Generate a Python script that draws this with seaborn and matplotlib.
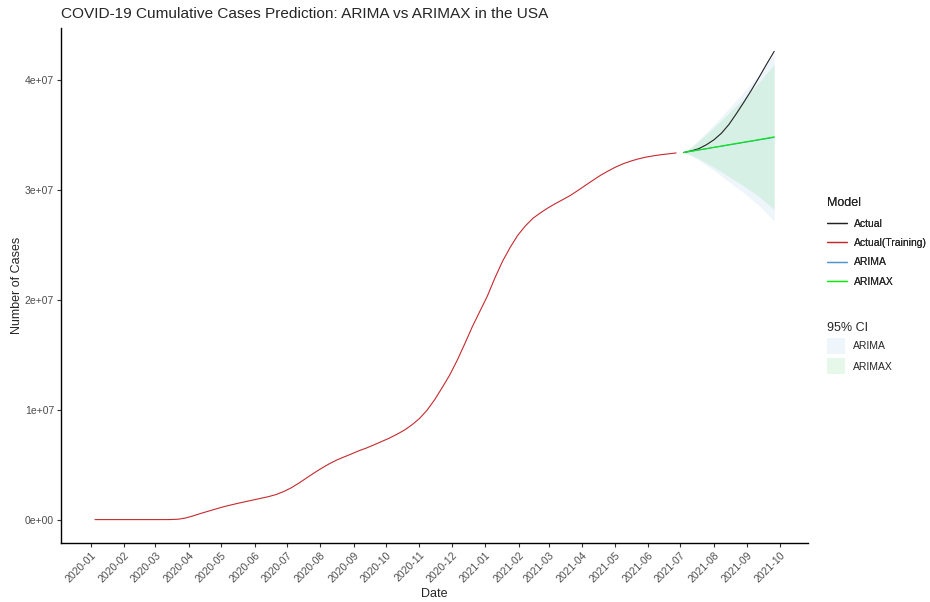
import pandas as pd
import numpy as np
import matplotlib
matplotlib.use('Agg')
import matplotlib.pyplot as plt
import matplotlib.dates as mdates
from matplotlib.lines import Line2D
from matplotlib.patches import Patch
from matplotlib.ticker import FuncFormatter
import seaborn as sns

sns.set_style('ticks')
plt.rcParams['font.family'] = ['Liberation Sans', 'DejaVu Sans']

# weekly cumulative cases (millions), training period
train_dates = pd.date_range('2020-01-05', '2021-06-27', freq='7D')
train_cases = [0, 0, 0, 0.00001, 0.00001, 0.00001, 0.00002, 0.00002, 0.0001, 0.0005,
               0.0035, 0.033, 0.142, 0.337, 0.557, 0.760, 0.965, 1.16, 1.33, 1.49,
               1.64, 1.79, 1.94, 2.09, 2.28, 2.55, 2.89, 3.31, 3.77, 4.23,
               4.66, 5.06, 5.41, 5.70, 5.98, 6.27, 6.52, 6.81, 7.11, 7.41,
               7.76, 8.14, 8.62, 9.20, 9.95, 10.90, 12.00, 13.15, 14.50, 16.00,
               17.55, 18.95, 20.35, 22.00, 23.50, 24.75, 25.85, 26.70, 27.40, 27.90,
               28.35, 28.75, 29.12, 29.50, 29.95, 30.42, 30.88, 31.33, 31.72, 32.08,
               32.38, 32.62, 32.82, 32.98, 33.10, 33.20, 33.28, 33.36]

# test period
test_dates = pd.date_range('2021-07-04', '2021-09-26', freq='7D')
test_cases = [33.40, 33.55, 33.75, 34.10, 34.55, 35.15, 35.95, 36.95, 38.00,
              39.10, 40.25, 41.45, 42.60]

arima_fc = [33.40, 33.51, 33.63, 33.74, 33.86, 33.97, 34.09, 34.20, 34.32,
            34.43, 34.55, 34.66, 34.78]
arima_lo = [33.40, 33.11, 32.71, 32.24, 31.79, 31.27, 30.76, 30.23, 29.72,
            29.14, 28.57, 27.87, 27.18]
arima_hi = [33.40, 33.91, 34.55, 35.24, 35.93, 36.67, 37.42, 38.17, 38.92,
            39.72, 40.53, 41.45, 42.38]

arimax_fc = [33.40, 33.52, 33.64, 33.75, 33.87, 33.99, 34.11, 34.23, 34.35,
             34.46, 34.58, 34.70, 34.82]
arimax_lo = [33.40, 33.17, 32.84, 32.45, 32.07, 31.64, 31.21, 30.78, 30.35,
             29.86, 29.38, 28.80, 28.22]
arimax_hi = [33.40, 33.87, 34.44, 35.05, 35.67, 36.34, 37.01, 37.68, 38.35,
             39.06, 39.78, 40.60, 41.42]

models = ['Actual', 'Actual(Training)', 'ARIMA', 'ARIMAX']
colors = {'Actual': '#222222', 'Actual(Training)': '#C62A2F',
          'ARIMA': '#4F94CD', 'ARIMAX': '#00F000'}
ci_colors = {'ARIMA': '#AACDEB', 'ARIMAX': '#7DDC96'}

M = 1e6
df = pd.concat([
    pd.DataFrame({'Date': train_dates, 'Cases': np.array(train_cases) * M, 'Model': 'Actual(Training)'}),
    pd.DataFrame({'Date': test_dates, 'Cases': np.array(test_cases) * M, 'Model': 'Actual'}),
    pd.DataFrame({'Date': test_dates, 'Cases': np.array(arima_fc) * M, 'Model': 'ARIMA'}),
    pd.DataFrame({'Date': test_dates, 'Cases': np.array(arimax_fc) * M, 'Model': 'ARIMAX'}),
])

fig = plt.figure(figsize=(9.3, 6.02), dpi=100)
ax = fig.add_axes([0.0656, 0.098, 0.8034, 0.8555])

ax.fill_between(test_dates, np.array(arima_lo) * M, np.array(arima_hi) * M,
                color=ci_colors['ARIMA'], alpha=0.2, lw=0)
ax.fill_between(test_dates, np.array(arimax_lo) * M, np.array(arimax_hi) * M,
                color=ci_colors['ARIMAX'], alpha=0.2, lw=0)

sns.lineplot(data=df, x='Date', y='Cases', hue='Model', hue_order=models,
             palette=colors, lw=0.8, ax=ax, legend=False)

# limits like ggplot (5% expansion)
x0, x1 = train_dates[0], test_dates[-1]
pad = (x1 - x0) * 0.05
ax.set_xlim(x0 - pad, x1 + pad)
ymax = max(max(test_cases), max(arima_hi)) * M
ax.set_ylim(-0.05 * ymax, ymax * 1.05)

ax.xaxis.set_major_locator(mdates.MonthLocator())
ax.xaxis.set_major_formatter(mdates.DateFormatter('%Y-%m'))
ax.set_yticks([0, 1e7, 2e7, 3e7, 4e7])
ax.yaxis.set_major_formatter(FuncFormatter(lambda v, p: f'{v:.0e}'))
plt.setp(ax.get_xticklabels(), rotation=45, ha='right', rotation_mode='anchor')
ax.tick_params(axis='both', labelsize=7.5, labelcolor='#4D4D4D', color='#333333',
               length=3, width=0.8, pad=2)

sns.despine(ax=ax)
for s in ['left', 'bottom']:
    ax.spines[s].set_color('black')
    ax.spines[s].set_linewidth(1.0)

ax.set_xlabel('Date', fontsize=9, labelpad=3)
ax.set_ylabel('Number of Cases', fontsize=9, labelpad=1)
ax.set_title('COVID-19 Cumulative Cases Prediction: ARIMA vs ARIMAX in the USA',
             fontsize=11.1, loc='left', pad=7)

line_handles = [Line2D([0], [0], color=colors[m], lw=0.9) for m in models]
leg1 = fig.legend(line_handles, models, title='Model', loc='upper left',
                  bbox_to_anchor=(0.879, 0.688), frameon=False, fontsize=7.5,
                  title_fontsize=9, handlelength=1.9, labelspacing=0.9,
                  handletextpad=0.75, alignment='left')
fig.add_artist(leg1)

ci_handles = [Patch(facecolor=ci_colors[m], alpha=0.2, lw=0) for m in ['ARIMA', 'ARIMAX']]
fig.legend(ci_handles, ['ARIMA', 'ARIMAX'], title='95% CI', loc='upper left',
           bbox_to_anchor=(0.879, 0.481), frameon=False, fontsize=7.5,
           title_fontsize=9, handlelength=1.75, handleheight=2.0, labelspacing=0.4,
           handletextpad=0.75, alignment='left')

fig.savefig('out.png', dpi=100)
